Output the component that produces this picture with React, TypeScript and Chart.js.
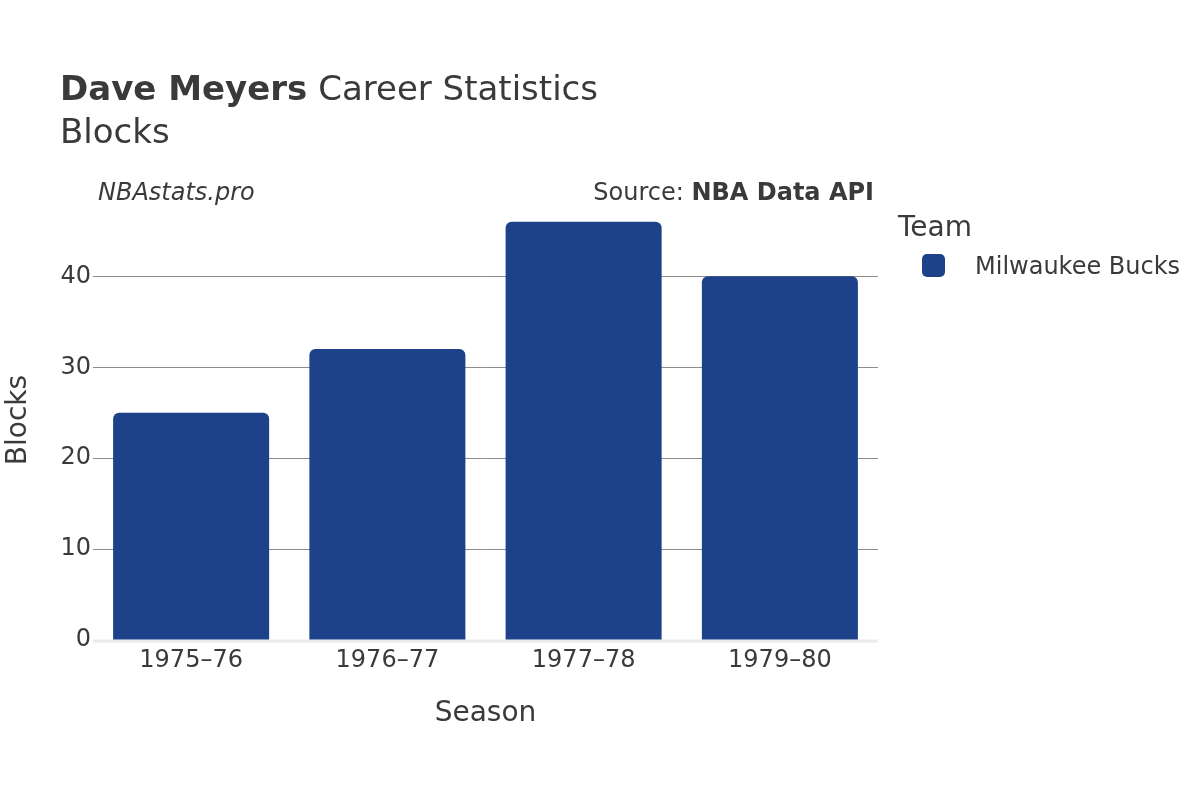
import React, { useEffect, useRef } from "react";
import { Chart, registerables } from "chart.js";

Chart.register(...registerables);

const seasons = ["1975–76", "1976–77", "1977–78", "1979–80"];
const blocks = [25, 32, 46, 40];
const teamName = "Milwaukee Bucks";
const yTicks = [0, 10, 20, 30, 40];

const FONT = "'DejaVu Sans', sans-serif";
const TEXT = "#3a3a3a";
const BAR = "#1d4289";

const decorPlugin = {
  id: "decor",
  beforeDatasetsDraw(chart: any) {
    const { ctx, chartArea } = chart;
    const y = chart.scales.y.getPixelForValue(0);
    ctx.save();
    ctx.strokeStyle = "#ebebeb";
    ctx.lineWidth = 3;
    ctx.beginPath();
    ctx.moveTo(chartArea.left, y + 1);
    ctx.lineTo(chartArea.right, y + 1);
    ctx.stroke();
    ctx.restore();
  },
  afterDraw(chart: any) {
    const { ctx, chartArea } = chart;
    ctx.save();
    ctx.fillStyle = TEXT;
    ctx.textBaseline = "middle";
    ctx.textAlign = "left";
    // Title
    ctx.font = `bold 34px ${FONT}`;
    const bold = "Dave Meyers";
    ctx.fillText(bold, 60, 91);
    const w = ctx.measureText(bold).width;
    ctx.font = `34px ${FONT}`;
    ctx.fillText(" Career Statistics", 60 + w, 91);
    ctx.fillText("Blocks", 60, 134);
    // Watermark
    ctx.font = `italic 24px ${FONT}`;
    ctx.fillText("NBAstats.pro", 98, 194);
    // Source
    ctx.textAlign = "right";
    ctx.font = `bold 24px ${FONT}`;
    const src = "NBA Data API";
    ctx.fillText(src, 874, 194);
    const sw = ctx.measureText(src).width;
    ctx.font = `24px ${FONT}`;
    ctx.fillText("Source: ", 874 - sw, 194);
    // Axis titles
    ctx.textAlign = "center";
    ctx.font = `28px ${FONT}`;
    ctx.fillText("Season", (chartArea.left + chartArea.right) / 2, 714);
    ctx.save();
    ctx.translate(19, (chartArea.top + chartArea.bottom) / 2);
    ctx.rotate(-Math.PI / 2);
    ctx.fillText("Blocks", 0, 0);
    ctx.restore();
    // Legend
    ctx.textAlign = "left";
    ctx.font = `28px ${FONT}`;
    ctx.fillText("Team", 898, 229);
    ctx.fillStyle = BAR;
    ctx.beginPath();
    (ctx as any).roundRect(922, 254, 23, 23, 5);
    ctx.fill();
    ctx.fillStyle = TEXT;
    ctx.font = `24px ${FONT}`;
    ctx.fillText(teamName, 975, 268);
    ctx.restore();
  },
};

export default function App() {
  const ref = useRef<HTMLCanvasElement>(null);
  useEffect(() => {
    if (!ref.current) return;
    const chart = new Chart(ref.current, {
      type: "bar",
      data: {
        labels: seasons,
        datasets: [
          {
            label: teamName,
            data: blocks,
            backgroundColor: BAR,
            borderRadius: 6,
            borderSkipped: "bottom",
            barPercentage: 0.795,
            categoryPercentage: 1,
          },
        ],
      },
      options: {
        responsive: false,
        animation: false,
        layout: { padding: { left: 0, top: 200, right: 322, bottom: 120 } },
        plugins: {
          legend: { display: false },
          title: { display: false },
          tooltip: { enabled: false },
        },
        scales: {
          x: {
            grid: { display: false, drawTicks: false },
            border: { display: false },
            ticks: {
              color: TEXT,
              font: { family: FONT, size: 24 },
              padding: 6,
              maxRotation: 0,
            },
            afterFit(scale: any) {
              scale.height = 40;
            },
          },
          y: {
            min: 0,
            max: 48.4,
            border: { display: false },
            grid: {
              drawTicks: false,
              color: (c: any) => (c.tick && c.tick.value === 0 ? "rgba(0,0,0,0)" : "#8c8c8c"),
              lineWidth: 1,
            },
            ticks: {
              stepSize: 10,
              includeBounds: false,
              color: TEXT,
              font: { family: FONT, size: 24 },
              padding: 2,
            },
            afterBuildTicks(scale: any) {
              scale.ticks = yTicks.map((v) => ({ value: v }));
            },
            afterFit(scale: any) {
              scale.width = 93;
            },
          },
        },
      },
      plugins: [decorPlugin],
    });
    return () => chart.destroy();
  }, []);
  return (
    <div style={{ position: "absolute", left: 0, top: 0, width: 1200, height: 800, background: "#fff" }}>
      <canvas ref={ref} width={1200} height={800} />
    </div>
  );
}
